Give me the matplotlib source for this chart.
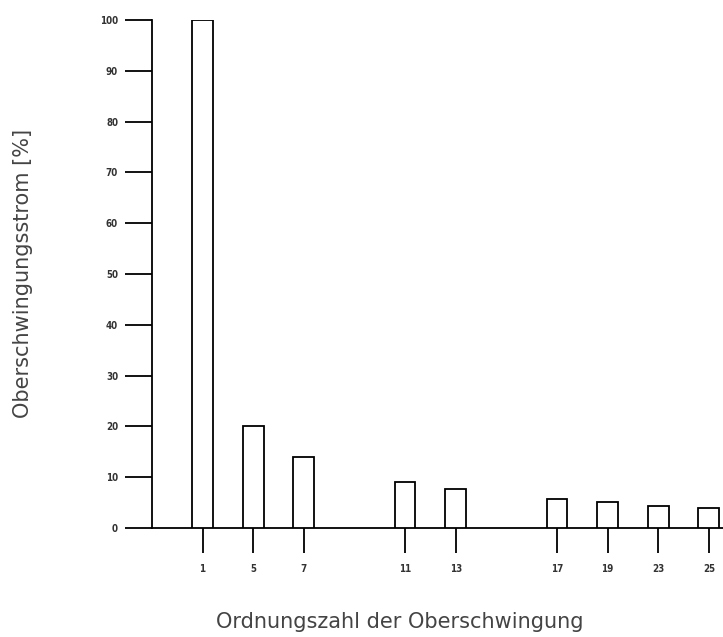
import matplotlib.pyplot as plt

# Daten
ordnung = ["1", "5", "7", "11", "13", "17", "19", "23", "25"]
slot = [0, 1, 2, 4, 5, 7, 8, 9, 10]      # Lücken bei fehlenden Ordnungen
strom = [100, 20, 14, 9, 7.7, 5.8, 5.2, 4.3, 3.9]
y_ticks = [0, 10, 20, 30, 40, 50, 60, 70, 80, 90, 100]

fig = plt.figure(figsize=(7.23, 6.37), dpi=100)
ax = fig.add_axes([0.2102, 0.1711, 0.7898, 0.7975])

ax.bar(slot, strom, width=0.41, color='white', edgecolor='black', linewidth=1.3, zorder=3)

ax.set_xlim(-1, 10.28)
ax.set_ylim(0, 100)

ax.spines['top'].set_visible(False)
ax.spines['right'].set_visible(False)
ax.spines['left'].set_linewidth(1.3)
ax.spines['bottom'].set_linewidth(1.3)

ax.set_yticks(y_ticks)
ax.set_yticklabels([str(v) for v in y_ticks], fontsize=7, fontweight='bold',
                   fontstretch='condensed', color='#333333')
ax.set_xticks(slot)
ax.set_xticklabels(ordnung, fontsize=7, fontweight='bold',
                   fontstretch='condensed', color='#333333')
ax.tick_params(axis='y', direction='out', length=19.4, width=1.3, pad=5)
ax.tick_params(axis='x', direction='out', length=18, width=1.3, pad=8)

# Achsentitel
fig.text(0.032, 0.57, 'Oberschwingungsstrom [%]', rotation=90, ha='center', va='center',
         fontsize=15, color='#444444')
fig.text(0.553, 0.023, 'Ordnungszahl der Oberschwingung', ha='center', va='center',
         fontsize=15, color='#444444')

fig.savefig('out.png', dpi=100)
